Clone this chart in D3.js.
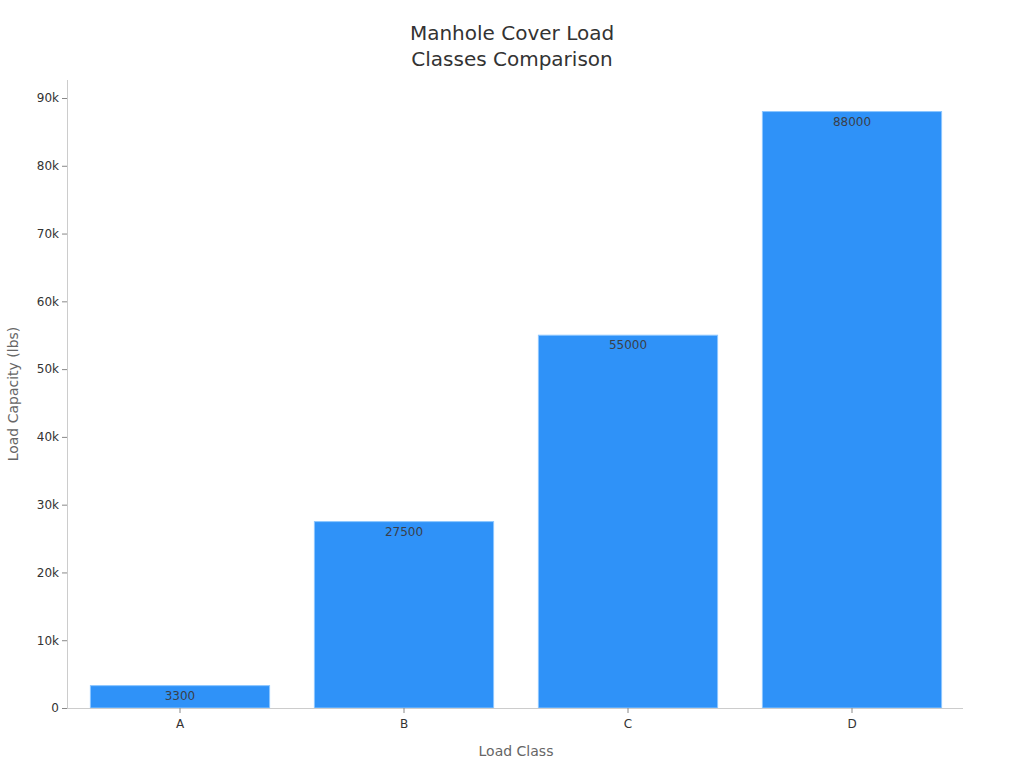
<html>
  <head>
    <style>
      body { margin: 0; background: #fff; }
      svg { font-family: "DejaVu Sans", sans-serif; }
    </style>
  </head>
  <body>
    <div id="vis"></div>
    <script src="https://d3js.org/d3.v7.min.js"></script>
    <script>
      // chart values
      const categories = ['A', 'B', 'C', 'D']
      const loads = [3300, 27500, 55000, 88000]
      const yTicks = [0, 10000, 20000, 30000, 40000, 50000, 60000, 70000, 80000, 90000]

      const width = 1024, height = 768
      const margin = {top: 80, right: 61, bottom: 60, left: 67}

      const svg = d3.select('#vis').append('svg')
              .attr('width', width).attr('height', height)

      const x = d3.scaleBand()
              .domain(categories)
              .range([margin.left + 1, width - margin.right + 1])
              .paddingInner(0.2).paddingOuter(0.1)
      const y = d3.scaleLinear()
              .domain([0, 90000])
              .range([height - margin.bottom, 98])

      // title
      svg.append('text')
              .attr('x', 512).attr('y', 40)
              .attr('text-anchor', 'middle')
              .attr('font-size', 20).attr('fill', '#333')
              .text('Manhole Cover Load')
      svg.append('text')
              .attr('x', 512).attr('y', 66)
              .attr('text-anchor', 'middle')
              .attr('font-size', 20).attr('fill', '#333')
              .text('Classes Comparison')

      // bars
      svg.selectAll('rect.bar')
              .data(loads)
              .join('rect')
              .attr('class', 'bar')
              .attr('x', (d, i) => x(categories[i]))
              .attr('width', x.bandwidth())
              .attr('y', d => y(d))
              .attr('height', d => y(0) - y(d))
              .attr('fill', '#2f92f8')
              .attr('stroke', '#8cc6ff')
              .attr('stroke-width', 1)

      svg.selectAll('text.val')
              .data(loads)
              .join('text')
              .attr('class', 'val')
              .attr('x', (d, i) => x(categories[i]) + x.bandwidth() / 2)
              .attr('y', d => y(d) + 14.2)
              .attr('text-anchor', 'middle')
              .attr('font-size', 12)
              .attr('fill', '#3a3f4a')
              .text(d => d)

      // axes
      const xAxis = svg.append('g')
              .attr('transform', 'translate(0,' + y(0) + ')')
              .call(d3.axisBottom(x).tickSize(5).tickPadding(6))
      xAxis.select('.domain').attr('stroke', '#ccc').attr('d', 'M' + margin.left + ',0.5H' + (width - margin.right))
      xAxis.selectAll('.tick line').attr('stroke', '#888')
      xAxis.selectAll('.tick text').attr('font-size', 12).attr('fill', '#333')
              .attr('font-family', '"DejaVu Sans", sans-serif')

      const yAxis = svg.append('g')
              .attr('transform', 'translate(' + margin.left + ',0)')
              .call(d3.axisLeft(y).tickValues(yTicks)
                      .tickFormat(d => d === 0 ? '0' : (d / 1000) + 'k')
                      .tickSize(5).tickPadding(3).tickSizeOuter(0))
      yAxis.select('.domain').attr('stroke', '#ccc').attr('d', 'M0.5,80V' + y(0))
      yAxis.selectAll('.tick line').attr('stroke', '#888')
      yAxis.selectAll('.tick text').attr('font-size', 12).attr('fill', '#333')
              .attr('font-family', '"DejaVu Sans", sans-serif')

      // axis titles
      svg.append('text')
              .attr('x', 516).attr('y', 756)
              .attr('text-anchor', 'middle')
              .attr('font-size', 14).attr('fill', '#666')
              .text('Load Class')
      svg.append('text')
              .attr('transform', 'translate(18,394) rotate(-90)')
              .attr('text-anchor', 'middle')
              .attr('font-size', 14).attr('fill', '#666')
              .text('Load Capacity (lbs)')
    </script>
  </body>
</html>
